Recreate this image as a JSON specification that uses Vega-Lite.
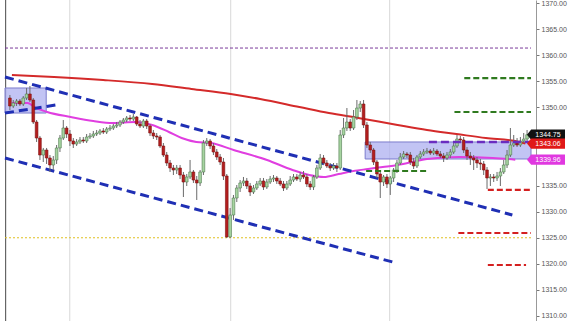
{
"$schema":"https://vega.github.io/schema/vega-lite/v6.json",
"width":536,"height":321,"autosize":"none",
"padding":{"left":0,"top":0,"right":34,"bottom":0},
"background":"white",
"config":{"view":{"stroke":null}},
"datasets":{
"candles":[
{"i":0,"o":1351.79,"c":1350.26,"h":1352.37,"l":1349.49},
{"i":1,"o":1350.26,"c":1350.83,"h":1351.41,"l":1349.87},
{"i":2,"o":1350.83,"c":1351.21,"h":1351.60,"l":1350.26},
{"i":3,"o":1351.21,"c":1350.64,"h":1351.60,"l":1350.26},
{"i":4,"o":1350.64,"c":1351.79,"h":1352.17,"l":1350.26},
{"i":5,"o":1351.79,"c":1352.56,"h":1353.71,"l":1351.41},
{"i":6,"o":1352.56,"c":1351.41,"h":1354.09,"l":1351.02},
{"i":7,"o":1351.41,"c":1347.19,"h":1351.79,"l":1346.81},
{"i":8,"o":1347.19,"c":1344.12,"h":1347.57,"l":1343.36},
{"i":9,"o":1344.12,"c":1340.86,"h":1344.51,"l":1339.91},
{"i":10,"o":1340.86,"c":1341.82,"h":1342.21,"l":1339.52},
{"i":11,"o":1341.82,"c":1340.29,"h":1342.21,"l":1339.14},
{"i":12,"o":1340.29,"c":1338.95,"h":1340.86,"l":1337.61},
{"i":13,"o":1338.95,"c":1339.91,"h":1340.67,"l":1337.99},
{"i":14,"o":1339.91,"c":1342.21,"h":1342.78,"l":1339.14},
{"i":15,"o":1342.21,"c":1344.12,"h":1344.70,"l":1341.44},
{"i":16,"o":1344.12,"c":1346.04,"h":1347.57,"l":1343.74},
{"i":17,"o":1346.04,"c":1344.89,"h":1346.42,"l":1344.12},
{"i":18,"o":1344.89,"c":1343.55,"h":1345.66,"l":1342.59},
{"i":19,"o":1343.55,"c":1342.97,"h":1344.12,"l":1342.21},
{"i":20,"o":1342.97,"c":1343.36,"h":1343.93,"l":1342.59},
{"i":21,"o":1343.36,"c":1343.74,"h":1344.31,"l":1342.97},
{"i":22,"o":1343.74,"c":1343.55,"h":1344.31,"l":1343.16},
{"i":23,"o":1343.55,"c":1344.31,"h":1344.89,"l":1343.16},
{"i":24,"o":1344.31,"c":1344.51,"h":1345.08,"l":1343.93},
{"i":25,"o":1344.51,"c":1344.89,"h":1345.47,"l":1344.12},
{"i":26,"o":1344.89,"c":1345.08,"h":1345.66,"l":1344.51},
{"i":27,"o":1345.08,"c":1345.47,"h":1345.85,"l":1344.70},
{"i":28,"o":1345.47,"c":1345.27,"h":1346.04,"l":1344.89},
{"i":29,"o":1345.27,"c":1345.85,"h":1346.23,"l":1344.89},
{"i":30,"o":1345.85,"c":1346.04,"h":1346.62,"l":1345.47},
{"i":31,"o":1346.04,"c":1346.42,"h":1346.81,"l":1345.66},
{"i":32,"o":1346.42,"c":1346.62,"h":1347.19,"l":1346.04},
{"i":33,"o":1346.62,"c":1347.19,"h":1347.57,"l":1346.23},
{"i":34,"o":1347.19,"c":1347.57,"h":1347.96,"l":1346.81},
{"i":35,"o":1347.57,"c":1347.96,"h":1348.34,"l":1347.19},
{"i":36,"o":1347.96,"c":1347.77,"h":1348.53,"l":1347.38},
{"i":37,"o":1347.77,"c":1348.15,"h":1348.72,"l":1347.38},
{"i":38,"o":1348.15,"c":1346.81,"h":1348.34,"l":1346.42},
{"i":39,"o":1346.81,"c":1346.42,"h":1347.57,"l":1346.04},
{"i":40,"o":1346.42,"c":1347.38,"h":1347.77,"l":1346.04},
{"i":41,"o":1347.38,"c":1346.42,"h":1347.77,"l":1345.85},
{"i":42,"o":1346.42,"c":1345.08,"h":1346.81,"l":1344.51},
{"i":43,"o":1345.08,"c":1344.51,"h":1345.66,"l":1343.93},
{"i":44,"o":1344.51,"c":1344.31,"h":1345.08,"l":1343.74},
{"i":45,"o":1344.31,"c":1342.59,"h":1344.70,"l":1342.21},
{"i":46,"o":1342.59,"c":1340.86,"h":1343.16,"l":1340.48},
{"i":47,"o":1340.86,"c":1339.33,"h":1341.44,"l":1338.76},
{"i":48,"o":1339.33,"c":1338.37,"h":1339.91,"l":1337.61},
{"i":49,"o":1338.37,"c":1337.99,"h":1338.95,"l":1337.03},
{"i":50,"o":1337.99,"c":1338.37,"h":1338.95,"l":1337.22},
{"i":51,"o":1338.37,"c":1337.03,"h":1338.95,"l":1336.26},
{"i":52,"o":1337.03,"c":1335.69,"h":1337.61,"l":1332.81},
{"i":53,"o":1335.69,"c":1336.65,"h":1337.22,"l":1334.92},
{"i":54,"o":1336.65,"c":1337.61,"h":1339.91,"l":1336.26},
{"i":55,"o":1337.61,"c":1336.07,"h":1337.99,"l":1335.50},
{"i":56,"o":1336.07,"c":1335.50,"h":1336.84,"l":1332.24},
{"i":57,"o":1335.50,"c":1337.61,"h":1337.99,"l":1334.92},
{"i":58,"o":1337.61,"c":1343.16,"h":1343.74,"l":1337.03},
{"i":59,"o":1343.16,"c":1343.55,"h":1344.12,"l":1342.59},
{"i":60,"o":1343.55,"c":1342.59,"h":1343.93,"l":1342.01},
{"i":61,"o":1342.59,"c":1341.44,"h":1343.16,"l":1340.86},
{"i":62,"o":1341.44,"c":1340.48,"h":1342.01,"l":1339.91},
{"i":63,"o":1340.48,"c":1339.52,"h":1341.06,"l":1338.95},
{"i":64,"o":1339.52,"c":1336.84,"h":1340.29,"l":1336.07},
{"i":65,"o":1336.84,"c":1325.15,"h":1337.22,"l":1324.95},
{"i":66,"o":1325.15,"c":1329.36,"h":1330.70,"l":1324.95},
{"i":67,"o":1329.36,"c":1332.62,"h":1333.20,"l":1328.41},
{"i":68,"o":1332.62,"c":1334.54,"h":1335.11,"l":1331.85},
{"i":69,"o":1334.54,"c":1335.50,"h":1336.07,"l":1333.77},
{"i":70,"o":1335.50,"c":1335.88,"h":1336.65,"l":1334.92},
{"i":71,"o":1335.88,"c":1334.92,"h":1336.46,"l":1334.35},
{"i":72,"o":1334.92,"c":1333.77,"h":1335.50,"l":1333.00},
{"i":73,"o":1333.77,"c":1334.54,"h":1335.11,"l":1333.39},
{"i":74,"o":1334.54,"c":1335.31,"h":1335.88,"l":1334.16},
{"i":75,"o":1335.31,"c":1335.88,"h":1336.46,"l":1334.92},
{"i":76,"o":1335.88,"c":1334.73,"h":1336.46,"l":1334.16},
{"i":77,"o":1334.73,"c":1335.69,"h":1336.26,"l":1334.35},
{"i":78,"o":1335.69,"c":1336.26,"h":1336.84,"l":1335.31},
{"i":79,"o":1336.26,"c":1336.46,"h":1337.03,"l":1335.69},
{"i":80,"o":1336.46,"c":1335.88,"h":1336.84,"l":1335.31},
{"i":81,"o":1335.88,"c":1335.31,"h":1336.46,"l":1334.92},
{"i":82,"o":1335.31,"c":1334.54,"h":1335.88,"l":1333.96},
{"i":83,"o":1334.54,"c":1335.31,"h":1335.88,"l":1334.16},
{"i":84,"o":1335.31,"c":1336.07,"h":1336.84,"l":1334.92},
{"i":85,"o":1336.07,"c":1336.65,"h":1337.22,"l":1335.69},
{"i":86,"o":1336.65,"c":1336.26,"h":1337.22,"l":1335.88},
{"i":87,"o":1336.26,"c":1337.03,"h":1337.61,"l":1335.69},
{"i":88,"o":1337.03,"c":1336.65,"h":1337.80,"l":1336.26},
{"i":89,"o":1336.65,"c":1335.31,"h":1337.22,"l":1334.73},
{"i":90,"o":1335.31,"c":1334.73,"h":1335.88,"l":1334.16},
{"i":91,"o":1334.73,"c":1336.65,"h":1337.03,"l":1334.16},
{"i":92,"o":1336.65,"c":1338.37,"h":1338.95,"l":1336.26},
{"i":93,"o":1338.37,"c":1340.29,"h":1341.06,"l":1337.99},
{"i":94,"o":1340.29,"c":1339.33,"h":1340.86,"l":1338.95},
{"i":95,"o":1339.33,"c":1338.76,"h":1339.91,"l":1338.37},
{"i":96,"o":1338.76,"c":1338.37,"h":1339.33,"l":1337.80},
{"i":97,"o":1338.37,"c":1338.76,"h":1339.33,"l":1337.99},
{"i":98,"o":1338.76,"c":1338.37,"h":1339.33,"l":1337.61},
{"i":99,"o":1338.37,"c":1344.70,"h":1345.66,"l":1337.99},
{"i":100,"o":1344.70,"c":1346.04,"h":1347.96,"l":1344.12},
{"i":101,"o":1346.04,"c":1347.19,"h":1349.87,"l":1345.47},
{"i":102,"o":1347.19,"c":1346.04,"h":1347.77,"l":1345.47},
{"i":103,"o":1346.04,"c":1348.15,"h":1349.49,"l":1345.66},
{"i":104,"o":1348.15,"c":1349.87,"h":1351.41,"l":1347.57},
{"i":105,"o":1349.87,"c":1350.64,"h":1351.21,"l":1349.11},
{"i":106,"o":1350.64,"c":1346.62,"h":1351.41,"l":1346.04},
{"i":107,"o":1346.62,"c":1342.78,"h":1347.19,"l":1342.21},
{"i":108,"o":1342.78,"c":1341.82,"h":1343.36,"l":1341.25},
{"i":109,"o":1341.82,"c":1339.52,"h":1342.21,"l":1338.95},
{"i":110,"o":1339.52,"c":1337.22,"h":1339.91,"l":1336.46},
{"i":111,"o":1337.22,"c":1335.69,"h":1337.99,"l":1332.62},
{"i":112,"o":1335.69,"c":1336.65,"h":1337.03,"l":1334.92},
{"i":113,"o":1336.65,"c":1335.31,"h":1337.22,"l":1334.54},
{"i":114,"o":1335.31,"c":1336.46,"h":1336.84,"l":1333.20},
{"i":115,"o":1336.46,"c":1337.99,"h":1338.37,"l":1335.69},
{"i":116,"o":1337.99,"c":1339.33,"h":1339.91,"l":1337.41},
{"i":117,"o":1339.33,"c":1340.48,"h":1341.25,"l":1338.95},
{"i":118,"o":1340.48,"c":1341.06,"h":1341.63,"l":1340.10},
{"i":119,"o":1341.06,"c":1340.86,"h":1341.44,"l":1340.29},
{"i":120,"o":1340.86,"c":1339.52,"h":1341.44,"l":1338.95},
{"i":121,"o":1339.52,"c":1338.76,"h":1340.29,"l":1338.18},
{"i":122,"o":1338.76,"c":1340.48,"h":1340.86,"l":1338.37},
{"i":123,"o":1340.48,"c":1341.06,"h":1341.63,"l":1340.10},
{"i":124,"o":1341.06,"c":1341.44,"h":1342.01,"l":1340.67},
{"i":125,"o":1341.44,"c":1341.63,"h":1342.21,"l":1341.06},
{"i":126,"o":1341.63,"c":1341.25,"h":1342.01,"l":1340.86},
{"i":127,"o":1341.25,"c":1341.63,"h":1342.21,"l":1340.86},
{"i":128,"o":1341.63,"c":1341.06,"h":1342.01,"l":1340.67},
{"i":129,"o":1341.06,"c":1340.67,"h":1341.63,"l":1340.29},
{"i":130,"o":1340.67,"c":1340.29,"h":1341.25,"l":1339.52},
{"i":131,"o":1340.29,"c":1340.86,"h":1341.44,"l":1339.91},
{"i":132,"o":1340.86,"c":1341.44,"h":1342.01,"l":1340.29},
{"i":133,"o":1341.44,"c":1342.59,"h":1343.16,"l":1341.06},
{"i":134,"o":1342.59,"c":1343.93,"h":1344.70,"l":1342.21},
{"i":135,"o":1343.93,"c":1343.74,"h":1344.51,"l":1343.36},
{"i":136,"o":1343.74,"c":1341.82,"h":1344.31,"l":1341.25},
{"i":137,"o":1341.82,"c":1340.67,"h":1342.40,"l":1339.91},
{"i":138,"o":1340.67,"c":1340.29,"h":1341.44,"l":1338.95},
{"i":139,"o":1340.29,"c":1339.91,"h":1340.86,"l":1337.99},
{"i":140,"o":1339.91,"c":1339.33,"h":1340.48,"l":1338.37},
{"i":141,"o":1339.33,"c":1339.14,"h":1340.10,"l":1337.99},
{"i":142,"o":1339.14,"c":1337.99,"h":1339.71,"l":1337.03},
{"i":143,"o":1337.99,"c":1336.46,"h":1338.56,"l":1334.35},
{"i":144,"o":1336.46,"c":1336.65,"h":1337.22,"l":1334.92},
{"i":145,"o":1336.65,"c":1336.46,"h":1337.22,"l":1335.69},
{"i":146,"o":1336.46,"c":1336.84,"h":1337.61,"l":1335.88},
{"i":147,"o":1336.84,"c":1337.61,"h":1338.37,"l":1334.92},
{"i":148,"o":1337.61,"c":1338.95,"h":1339.91,"l":1337.22},
{"i":149,"o":1338.95,"c":1340.86,"h":1341.82,"l":1338.37},
{"i":150,"o":1340.86,"c":1342.78,"h":1346.04,"l":1340.48},
{"i":151,"o":1342.78,"c":1343.16,"h":1344.70,"l":1342.40},
{"i":152,"o":1343.16,"c":1342.78,"h":1344.12,"l":1342.40},
{"i":153,"o":1342.78,"c":1343.55,"h":1344.31,"l":1342.40},
{"i":154,"o":1343.55,"c":1343.93,"h":1345.08,"l":1343.16},
{"i":155,"o":1343.93,"c":1344.75,"h":1345.66,"l":1343.55}
],
"red":[{"i":0.6,"p":1356.2},{"i":13.24,"p":1355.82},{"i":27.94,"p":1355.24},{"i":42.65,"p":1354.47},{"i":54.41,"p":1353.52},{"i":66.18,"p":1352.56},{"i":75,"p":1351.6},{"i":86.76,"p":1350.06},{"i":95.59,"p":1348.91},{"i":104.41,"p":1347.96},{"i":116.18,"p":1346.62},{"i":125,"p":1345.66},{"i":133.82,"p":1344.89},{"i":142.65,"p":1344.12},{"i":151.47,"p":1343.55},{"i":154.5,"p":1343.06}],
"mag":[{"i":0.59,"p":1350.83},{"i":5.29,"p":1350.83},{"i":7.35,"p":1350.06},{"i":11.18,"p":1349.11},{"i":18.24,"p":1348.15},{"i":25,"p":1347.38},{"i":30.88,"p":1347.0},{"i":37.65,"p":1347.19},{"i":42.65,"p":1346.62},{"i":47.65,"p":1345.27},{"i":51.47,"p":1344.12},{"i":55.88,"p":1343.36},{"i":60.29,"p":1343.16},{"i":67.06,"p":1341.82},{"i":77.06,"p":1339.91},{"i":84.71,"p":1337.99},{"i":89.71,"p":1337.03},{"i":94.12,"p":1336.65},{"i":98.53,"p":1337.22},{"i":102.94,"p":1337.8},{"i":107.35,"p":1338.18},{"i":111.76,"p":1338.56},{"i":116.18,"p":1338.95},{"i":125,"p":1340.1},{"i":134.71,"p":1340.48},{"i":144.71,"p":1340.29},{"i":151.47,"p":1339.96}],
"trend":[{"x1":-1.47,"p1":1355.81,"x2":150.59,"p2":1329.36},{"x1":-1.47,"p1":1340.29,"x2":114.71,"p2":1320.35},{"x1":-1.47,"p1":1348.91,"x2":13.82,"p2":1350.45}],
"boxes":[{"x1":-1.47,"x2":10.88,"p1":1353.71,"p2":1348.91},{"x1":106.47,"x2":156.18,"p1":1343.36,"p2":1340.1}],
"levels":[
{"k":"purpleFull","x1":-1.47,"x2":156.18,"p":1361.37},
{"k":"yellow","x1":-1.47,"x2":156.18,"p":1325.0},
{"k":"purple","x1":125.59,"x2":156.18,"p":1343.36},
{"k":"green","x1":136.18,"x2":156.18,"p":1355.62},
{"k":"green","x1":133.24,"x2":156.18,"p":1349.11},
{"k":"green","x1":106.76,"x2":125.59,"p":1337.8},
{"k":"red","x1":143.24,"x2":156.18,"p":1334.16},
{"k":"red","x1":134.41,"x2":156.18,"p":1325.91},
{"k":"red","x1":143.24,"x2":154.7,"p":1319.78}
],
"grid":[{"i":17.94},{"i":66.18},{"i":113.82}],
"tags":[{"s":"last","p":1344.75},{"s":"ma1","p":1343.06},{"s":"ma2","p":1339.96}]
},
"layer":[
{"data":{"name":"grid"},"mark":{"type":"rule","color":"#d8d8d8","strokeWidth":1},
 "encoding":{"x":{"field":"i","type":"quantitative","scale":{"domain":[-1.47,156.18],"nice":false,"zero":false},"axis":null}}},
{"data":{"name":"grid"},"mark":{"type":"rule","color":"#666","strokeWidth":1},
 "encoding":{"x":{"datum":-1.3,"type":"quantitative","scale":{"domain":[-1.47,156.18],"nice":false,"zero":false},"axis":null}}},
{"data":{"name":"boxes"},"mark":{"type":"rect","fill":"#aeb0f0","fillOpacity":0.75,"stroke":"#7c7ccc","strokeWidth":1},
 "encoding":{
  "x":{"field":"x1","type":"quantitative","scale":{"domain":[-1.47,156.18],"nice":false,"zero":false},"axis":null},
  "x2":{"field":"x2"},
  "y":{"field":"p1","type":"quantitative","scale":{"domain":[1309.04,1370.58],"nice":false,"zero":false},"axis":{"orient":"right","values":[1310,1315,1320,1325,1330,1335,1350,1355,1360,1365,1370],"format":".2f","title":null,"grid":false,"labelFontSize":7,"labelFont":"Liberation Sans","labelColor":"#555","tickColor":"#777","tickSize":3,"domainColor":"#999","labelPadding":2}},
  "y2":{"field":"p2"}}},
{"data":{"name":"levels"},"transform":[{"filter":"datum.k==='purpleFull'"}],"mark":{"type":"rule","color":"#7a3a9a","strokeWidth":1,"strokeDash":[3,2]},
 "encoding":{"x":{"field":"x1","type":"quantitative","scale":{"domain":[-1.47,156.18],"nice":false,"zero":false},"axis":null},"x2":{"field":"x2"},
  "y":{"field":"p","type":"quantitative","scale":{"domain":[1309.04,1370.58],"nice":false,"zero":false},"axis":{"orient":"right","values":[1310,1315,1320,1325,1330,1335,1350,1355,1360,1365,1370],"format":".2f","title":null,"grid":false,"labelFontSize":7,"labelFont":"Liberation Sans","labelColor":"#555","tickColor":"#777","tickSize":3,"domainColor":"#999","labelPadding":2}}}},
{"data":{"name":"levels"},"transform":[{"filter":"datum.k==='yellow'"}],"mark":{"type":"rule","color":"#e0c020","strokeWidth":1,"strokeDash":[2,2]},
 "encoding":{"x":{"field":"x1","type":"quantitative","scale":{"domain":[-1.47,156.18],"nice":false,"zero":false},"axis":null},"x2":{"field":"x2"},
  "y":{"field":"p","type":"quantitative","scale":{"domain":[1309.04,1370.58],"nice":false,"zero":false},"axis":{"orient":"right","values":[1310,1315,1320,1325,1330,1335,1350,1355,1360,1365,1370],"format":".2f","title":null,"grid":false,"labelFontSize":7,"labelFont":"Liberation Sans","labelColor":"#555","tickColor":"#777","tickSize":3,"domainColor":"#999","labelPadding":2}}}},
{"data":{"name":"red"},"mark":{"type":"line","color":"#d42a2a","strokeWidth":2,"interpolate":"monotone"},
 "encoding":{"x":{"field":"i","type":"quantitative","scale":{"domain":[-1.47,156.18],"nice":false,"zero":false},"axis":null},
  "y":{"field":"p","type":"quantitative","scale":{"domain":[1309.04,1370.58],"nice":false,"zero":false},"axis":{"orient":"right","values":[1310,1315,1320,1325,1330,1335,1350,1355,1360,1365,1370],"format":".2f","title":null,"grid":false,"labelFontSize":7,"labelFont":"Liberation Sans","labelColor":"#555","tickColor":"#777","tickSize":3,"domainColor":"#999","labelPadding":2}}}},
{"data":{"name":"mag"},"mark":{"type":"line","color":"#e03ee0","strokeWidth":2,"interpolate":"monotone"},
 "encoding":{"x":{"field":"i","type":"quantitative","scale":{"domain":[-1.47,156.18],"nice":false,"zero":false},"axis":null},
  "y":{"field":"p","type":"quantitative","scale":{"domain":[1309.04,1370.58],"nice":false,"zero":false},"axis":{"orient":"right","values":[1310,1315,1320,1325,1330,1335,1350,1355,1360,1365,1370],"format":".2f","title":null,"grid":false,"labelFontSize":7,"labelFont":"Liberation Sans","labelColor":"#555","tickColor":"#777","tickSize":3,"domainColor":"#999","labelPadding":2}}}},
{"data":{"name":"trend"},"mark":{"type":"rule","color":"#1f2fb4","strokeWidth":3,"strokeDash":[9,5]},
 "encoding":{"x":{"field":"x1","type":"quantitative","scale":{"domain":[-1.47,156.18],"nice":false,"zero":false},"axis":null},"x2":{"field":"x2"},
  "y":{"field":"p1","type":"quantitative","scale":{"domain":[1309.04,1370.58],"nice":false,"zero":false},"axis":{"orient":"right","values":[1310,1315,1320,1325,1330,1335,1350,1355,1360,1365,1370],"format":".2f","title":null,"grid":false,"labelFontSize":7,"labelFont":"Liberation Sans","labelColor":"#555","tickColor":"#777","tickSize":3,"domainColor":"#999","labelPadding":2}},"y2":{"field":"p2"}}},
{"data":{"name":"candles"},"mark":{"type":"rule","color":"#6a6a6a","strokeWidth":1},
 "encoding":{"x":{"field":"i","type":"quantitative","scale":{"domain":[-1.47,156.18],"nice":false,"zero":false},"axis":null},
  "y":{"field":"l","type":"quantitative","scale":{"domain":[1309.04,1370.58],"nice":false,"zero":false},"axis":{"orient":"right","values":[1310,1315,1320,1325,1330,1335,1350,1355,1360,1365,1370],"format":".2f","title":null,"grid":false,"labelFontSize":7,"labelFont":"Liberation Sans","labelColor":"#555","tickColor":"#777","tickSize":3,"domainColor":"#999","labelPadding":2}},"y2":{"field":"h"}}},
{"data":{"name":"candles"},"mark":{"type":"bar","size":2.7,"strokeWidth":0.6},
 "encoding":{"x":{"field":"i","type":"quantitative","scale":{"domain":[-1.47,156.18],"nice":false,"zero":false},"axis":null},
  "y":{"field":"o","type":"quantitative","scale":{"domain":[1309.04,1370.58],"nice":false,"zero":false},"axis":{"orient":"right","values":[1310,1315,1320,1325,1330,1335,1350,1355,1360,1365,1370],"format":".2f","title":null,"grid":false,"labelFontSize":7,"labelFont":"Liberation Sans","labelColor":"#555","tickColor":"#777","tickSize":3,"domainColor":"#999","labelPadding":2}},"y2":{"field":"c"},
  "fill":{"condition":{"test":"datum.c >= datum.o","value":"#a6d4a0"},"value":"#b41e1e"},
  "stroke":{"condition":{"test":"datum.c >= datum.o","value":"#4f7a4f"},"value":"#7e1010"}}},
{"data":{"name":"levels"},"transform":[{"filter":"datum.k==='purple'"}],"mark":{"type":"rule","color":"#6a2cc0","strokeWidth":2.5,"strokeDash":[8,4]},
 "encoding":{"x":{"field":"x1","type":"quantitative","scale":{"domain":[-1.47,156.18],"nice":false,"zero":false},"axis":null},"x2":{"field":"x2"},
  "y":{"field":"p","type":"quantitative","scale":{"domain":[1309.04,1370.58],"nice":false,"zero":false},"axis":{"orient":"right","values":[1310,1315,1320,1325,1330,1335,1350,1355,1360,1365,1370],"format":".2f","title":null,"grid":false,"labelFontSize":7,"labelFont":"Liberation Sans","labelColor":"#555","tickColor":"#777","tickSize":3,"domainColor":"#999","labelPadding":2}}}},
{"data":{"name":"levels"},"transform":[{"filter":"datum.k==='green'"}],"mark":{"type":"rule","color":"#2f7a1f","strokeWidth":2.2,"strokeDash":[6,3]},
 "encoding":{"x":{"field":"x1","type":"quantitative","scale":{"domain":[-1.47,156.18],"nice":false,"zero":false},"axis":null},"x2":{"field":"x2"},
  "y":{"field":"p","type":"quantitative","scale":{"domain":[1309.04,1370.58],"nice":false,"zero":false},"axis":{"orient":"right","values":[1310,1315,1320,1325,1330,1335,1350,1355,1360,1365,1370],"format":".2f","title":null,"grid":false,"labelFontSize":7,"labelFont":"Liberation Sans","labelColor":"#555","tickColor":"#777","tickSize":3,"domainColor":"#999","labelPadding":2}}}},
{"data":{"name":"levels"},"transform":[{"filter":"datum.k==='red'"}],"mark":{"type":"rule","color":"#d42020","strokeWidth":2.2,"strokeDash":[6,3]},
 "encoding":{"x":{"field":"x1","type":"quantitative","scale":{"domain":[-1.47,156.18],"nice":false,"zero":false},"axis":null},"x2":{"field":"x2"},
  "y":{"field":"p","type":"quantitative","scale":{"domain":[1309.04,1370.58],"nice":false,"zero":false},"axis":{"orient":"right","values":[1310,1315,1320,1325,1330,1335,1350,1355,1360,1365,1370],"format":".2f","title":null,"grid":false,"labelFontSize":7,"labelFont":"Liberation Sans","labelColor":"#555","tickColor":"#777","tickSize":3,"domainColor":"#999","labelPadding":2}}}},
{"data":{"name":"tags"},"mark":{"type":"point","filled":true,"opacity":1,"size":1444,"xOffset":15,"shape":"M-1,0L-0.78,-0.27L1,-0.27L1,0.27L-0.78,0.27Z"},
 "encoding":{"x":{"datum":156.18,"type":"quantitative","scale":{"domain":[-1.47,156.18],"nice":false,"zero":false},"axis":null},
  "y":{"field":"p","type":"quantitative","scale":{"domain":[1309.04,1370.58],"nice":false,"zero":false},"axis":{"orient":"right","values":[1310,1315,1320,1325,1330,1335,1350,1355,1360,1365,1370],"format":".2f","title":null,"grid":false,"labelFontSize":7,"labelFont":"Liberation Sans","labelColor":"#555","tickColor":"#777","tickSize":3,"domainColor":"#999","labelPadding":2}},
  "color":{"field":"s","type":"nominal","scale":{"domain":["last","ma1","ma2"],"range":["#111111","#e01818","#e038e0"]},"legend":null}}},
{"data":{"name":"tags"},"mark":{"type":"text","color":"white","fontSize":7,"font":"Liberation Sans","xOffset":17,"align":"center","baseline":"middle"},
 "encoding":{"x":{"datum":156.18,"type":"quantitative","scale":{"domain":[-1.47,156.18],"nice":false,"zero":false},"axis":null},
  "y":{"field":"p","type":"quantitative","scale":{"domain":[1309.04,1370.58],"nice":false,"zero":false},"axis":{"orient":"right","values":[1310,1315,1320,1325,1330,1335,1350,1355,1360,1365,1370],"format":".2f","title":null,"grid":false,"labelFontSize":7,"labelFont":"Liberation Sans","labelColor":"#555","tickColor":"#777","tickSize":3,"domainColor":"#999","labelPadding":2}},
  "text":{"field":"p","type":"quantitative","format":".2f"}}}
]
}
